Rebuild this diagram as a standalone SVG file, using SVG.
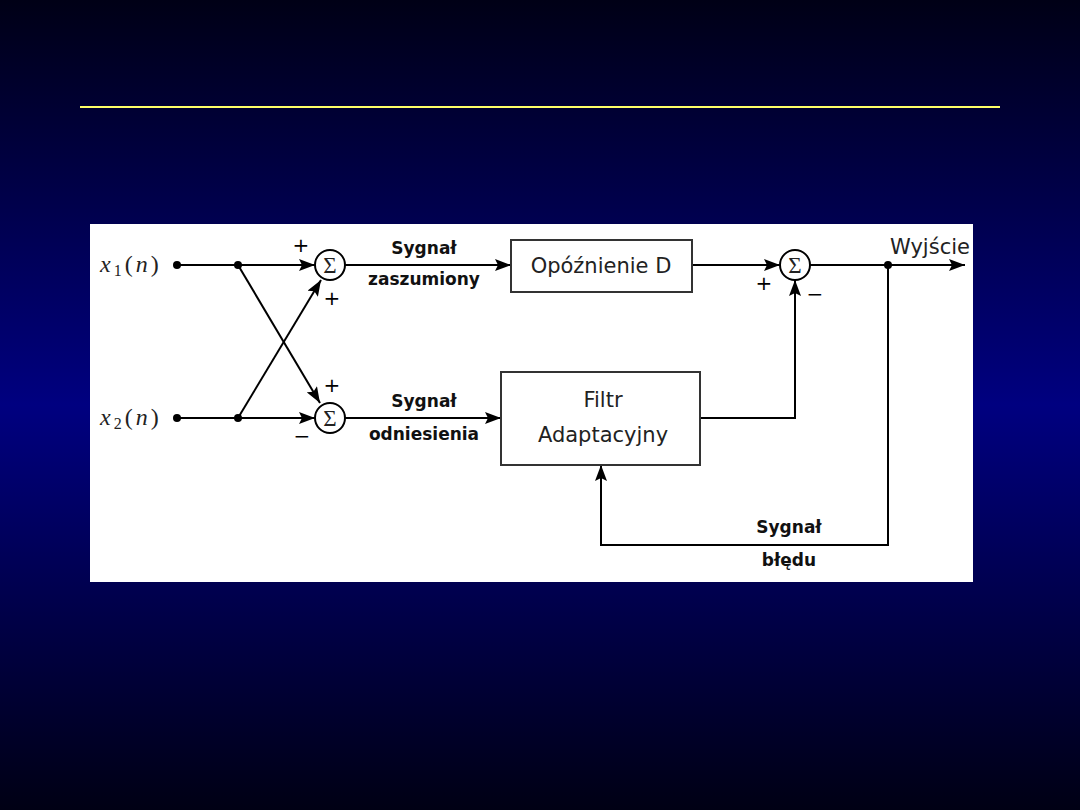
<svg xmlns="http://www.w3.org/2000/svg" width="1080" height="810" viewBox="0 0 1080 810">
<defs>
<linearGradient id="bg" x1="0" y1="0" x2="0" y2="1">
<stop offset="0" stop-color="#000016"/>
<stop offset="0.5" stop-color="#000080"/>
<stop offset="1" stop-color="#000014"/>
</linearGradient>
<marker id="ar" viewBox="0 0 16 12" refX="16" refY="6" markerWidth="16" markerHeight="12" markerUnits="userSpaceOnUse" orient="auto">
<path d="M0,0 L16,6 L0,12 L3,6 Z" fill="#000"/>
</marker>
<style>
.ln{stroke:#000;stroke-width:2;fill:none}
.bx{stroke:#333;stroke-width:2;fill:#fff}
.sum{stroke:#000;stroke-width:2;fill:#fff}
.lbl{font-family:"DejaVu Sans",sans-serif;font-weight:bold;font-size:17px;fill:#111;text-anchor:middle}
.bt{font-family:"DejaVu Sans",sans-serif;font-size:21px;fill:#222;text-anchor:middle}
.sg{font-family:"Liberation Serif",serif;font-size:23px;fill:#222;text-anchor:middle}
.pm{font-family:"DejaVu Sans",sans-serif;font-size:20px;fill:#000;text-anchor:middle}
.mx{font-family:"Liberation Serif",serif;font-style:italic;font-size:24px;fill:#222}
.dot{fill:#000}
</style>
</defs>
<rect x="0" y="0" width="1080" height="810" fill="url(#bg)"/>
<line x1="80" y1="107" x2="1000" y2="107" stroke="#ffff66" stroke-width="2"/>
<rect x="90" y="224" width="883" height="358" fill="#fff"/>

<g id="connectors">
<line class="ln" x1="177" y1="265" x2="315" y2="265" marker-end="url(#ar)"/>
<line class="ln" x1="177" y1="418" x2="315" y2="418" marker-end="url(#ar)"/>
<line class="ln" x1="238" y1="265" x2="320" y2="403" marker-end="url(#ar)"/>
<line class="ln" x1="238" y1="418" x2="321" y2="280" marker-end="url(#ar)"/>
<line class="ln" x1="345" y1="265" x2="511" y2="265" marker-end="url(#ar)"/>
<line class="ln" x1="345" y1="418" x2="501" y2="418" marker-end="url(#ar)"/>
<line class="ln" x1="692" y1="265" x2="780" y2="265" marker-end="url(#ar)"/>
<polyline class="ln" points="700,418 795,418 795,280" marker-end="url(#ar)"/>
<line class="ln" x1="810" y1="265" x2="965" y2="265" marker-end="url(#ar)"/>
<polyline class="ln" points="888,265 888,545 601,545 601,465" marker-end="url(#ar)"/>
<circle class="dot" cx="177" cy="265" r="4"/>
<circle class="dot" cx="238" cy="265" r="4"/>
<circle class="dot" cx="177" cy="418" r="4"/>
<circle class="dot" cx="238" cy="418" r="4"/>
<circle class="dot" cx="888" cy="265" r="4"/>
<text class="lbl" x="424" y="254">Sygnał</text>
<text class="lbl" x="424" y="285" font-size="16">zaszumiony</text>
<text class="lbl" x="424" y="407">Sygnał</text>
<text class="lbl" x="424" y="440" font-size="16">odniesienia</text>
<text class="lbl" x="789" y="533">Sygnał</text>
<text class="lbl" x="789" y="566">błędu</text>
<text class="bt" x="930" y="254" font-size="18">Wyjście</text>
</g>

<g id="in1"><text class="mx" x="100" y="272" letter-spacing="3">x<tspan font-style="normal" font-size="16" dy="4">1</tspan><tspan font-style="normal" dy="-4">(</tspan>n<tspan font-style="normal">)</tspan></text></g>
<g id="in2"><text class="mx" x="100" y="425" letter-spacing="3">x<tspan font-style="normal" font-size="16" dy="4">2</tspan><tspan font-style="normal" dy="-4">(</tspan>n<tspan font-style="normal">)</tspan></text></g>

<g id="sum1">
<circle class="sum" cx="330" cy="265" r="15"/>
<text class="sg" x="330" y="273">Σ</text>
<text class="pm" x="301" y="252">+</text>
<text class="pm" x="332" y="305">+</text>
</g>
<g id="sum2">
<circle class="sum" cx="330" cy="418" r="15"/>
<text class="sg" x="330" y="426">Σ</text>
<text class="pm" x="332" y="392">+</text>
<text class="pm" x="302" y="443">−</text>
</g>
<g id="sum3">
<circle class="sum" cx="795" cy="265" r="15"/>
<text class="sg" x="795" y="273">Σ</text>
<text class="pm" x="764" y="290">+</text>
<text class="pm" x="815" y="301">−</text>
</g>
<g id="delay">
<rect class="bx" x="511" y="240" width="181" height="52"/>
<text class="bt" x="601" y="273">Opóźnienie D</text>
</g>
<g id="filter">
<rect class="bx" x="501" y="372" width="199" height="93"/>
<text class="bt" x="603" y="407">Filtr</text>
<text class="bt" x="603" y="442">Adaptacyjny</text>
</g>
</svg>
